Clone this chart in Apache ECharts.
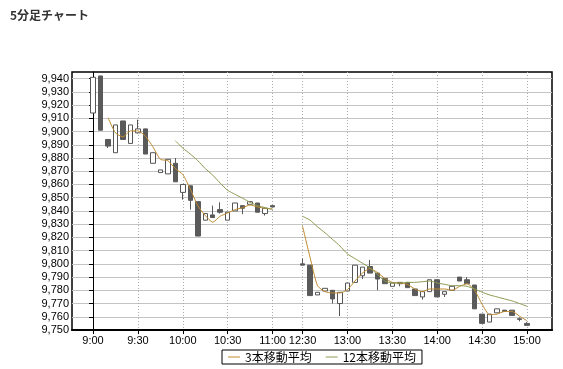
<!DOCTYPE html>
<html>
<head>
<meta charset="utf-8">
<script src="https://cdn.jsdelivr.net/npm/echarts@6/dist/echarts.min.js"></script>
<style>
html,body{margin:0;padding:0;background:#fff;}
#c{width:563px;height:369px;}
</style>
</head>
<body>
<div id="c"></div>
<script>
// Bar slots (index = position on time axis); '' = lunch-gap slots
var times = ['9:00','9:05','9:10','9:15','9:20','9:25','9:30','9:35','9:40','9:45','9:50','9:55',
  '10:00','10:05','10:10','10:15','10:20','10:25','10:30','10:35','10:40','10:45','10:50','10:55','11:00',
  '','','',
  '12:30','12:35','12:40','12:45','12:50','12:55','13:00','13:05','13:10','13:15','13:20','13:25',
  '13:30','13:35','13:40','13:45','13:50','13:55','14:00','14:05','14:10','14:15','14:20','14:25',
  '14:30','14:35','14:40','14:45','14:50','14:55','15:00'];

var openV = [9914,9942,9894,9884,9908,9891,9899,9902,9876,9869,9868,9876,9854,9859,9847,9833,9837,9841,9833,9840,9844,9845,9846,9838,9844,
  null,null,null,
  9800,9799,9776.5,9779.5,9780,9770,9779.5,9786,9791,9798,9793,9789,9783,9786,9786,9781,9775,9779,9788,9777,9780,9790,9788,9784,9762,9756,9763,9765,9765,9758.5,9755];
var closeV = [9941,9901,9889,9905,9894,9905,9902,9883,9884,9871,9879,9862,9860,9848,9821,9838,9835,9839,9839,9846,9842,9847,9839,9842,9843,
  null,null,null,
  9799,9776,9778.5,9781.5,9773.5,9778.5,9785.5,9799,9797.5,9793,9788.5,9785,9785.5,9785,9782,9776,9779,9788,9775,9779,9783,9787,9785,9766,9755,9762,9766,9764,9761,9758,9753.5];
var lowV = [9914,9901,9887.5,9884,9894,9891,9898.5,9883,9876,9869,9868,9862,9848.5,9841,9821,9833,9835,9838,9833,9840,9837.5,9845,9839,9836.5,9843,
  null,null,null,
  9799,9776,9776.5,9779.5,9770,9760.5,9779.5,9786,9788.5,9793,9780,9785,9783,9783,9782,9776,9773,9779,9775,9775,9780,9787,9785,9766,9755,9756,9763,9764,9761,9756.5,9753.5];
var highV = [9941,9942,9894,9905,9908,9905,9909,9902,9884,9871,9879,9880,9860,9859,9847,9838,9844,9846.5,9839,9846,9844,9847,9846,9842,9844,
  null,null,null,
  9804,9799,9778.5,9781.5,9780,9778.5,9785.5,9799,9797.5,9803,9793,9789,9785.5,9786,9786,9781,9779,9788,9788,9779,9783,9790,9790,9784,9762,9762,9766,9765,9765,9759.5,9756];

var ma3 = [null,null,9910.5,9899,9896,9900.5,9900.5,9896.5,9888.5,9879,9878,9872,9867.5,9856.5,9844,9836.5,9831.5,9836,9838.5,9841,9842.5,9844.5,9843,9842,9841.5,
  null,null,null,
  9828.5,9805,9783.5,9779,9778,9778,9780.5,9787,9793,9796.5,9793.5,9789,9786,9785.5,9784.5,9781,9779,9781,9781,9781,9780,9783,9785,9780,9769.5,9761.5,9762,9764,9764,9760.5,9757];
var ma12 = [null,null,null,null,null,null,null,null,null,null,null,9893,9887.5,9883,9878,9872,9867,9861,9855.5,9852.5,9849.5,9846.5,9844,9842.5,9841,
  null,null,null,
  9836,9833,9828,9823.5,9818.5,9813.5,9807.5,9804,9800.5,9797,9792,9787,9785.5,9785.5,9786,9786,9786.5,9787,9785.5,9784.5,9783.5,9783.5,9783,9781,9778.5,9776.5,9775,9773.5,9772,9770,9768];

var tickSlots = [0,6,12,18,24,28,34,40,46,52,58];
var yTicks = [9750,9760,9770,9780,9790,9800,9810,9820,9830,9840,9850,9860,9870,9880,9890,9900,9910,9920,9930,9940];
var legendNames = ['3本移動平均','12本移動平均'];
var titleText = '5分足チャート';

var candles = [];
for (var i = 0; i < times.length; i++) {
  if (openV[i] == null) continue;
  candles.push([i, openV[i], closeV[i], lowV[i], highV[i]]);
}
function lineData(arr){
  return arr.map(function(v,i){ return [i, v == null ? '-' : v]; });
}

var chart = echarts.init(document.getElementById('c'), null, {renderer:'canvas'});
chart.setOption({
  animation: false,
  backgroundColor: '#fff',
  title: {
    text: titleText, left: 10, top: 9, padding: 0,
    textStyle: {fontSize: 12, fontWeight: 'bold', color: '#333', fontFamily: '"Noto Sans CJK JP", sans-serif'}
  },
  legend: {
    data: legendNames, left: 222, top: 350, padding: [1,6,1,6], itemGap: 14,
    icon: 'rect', itemWidth: 12, itemHeight: 1,
    borderColor: '#000', borderWidth: 1,
    textStyle: {fontSize: 12, color: '#000', fontFamily: '"Noto Sans CJK JP", sans-serif'}
  },
  grid: {left: 72, top: 72, right: 11, bottom: 39, show: true, borderColor: '#000', borderWidth: 1.5, backgroundColor: '#fff'},
  xAxis: {
    type: 'value', min: -2.81, max: 61.34,
    axisLine: {show: true, onZero: false, lineStyle: {color: '#000', width: 2}},
    axisTick: {show: true, customValues: tickSlots, length: 4, lineStyle: {color: '#000'}},
    axisLabel: {customValues: tickSlots, formatter: function(v){ return times[Math.round(v)]; },
      color: '#000', fontSize: 11, fontFamily: '"Liberation Sans", Arial, sans-serif', margin: 5},
    splitLine: {show: true, lineStyle: {color: '#aaa', type: [1,2], width: 1}}
  },
  yAxis: {
    type: 'value', min: 9750, max: 9945, interval: 10,
    axisLine: {show: true, lineStyle: {color: '#000', width: 1}},
    axisTick: {show: true, customValues: yTicks, length: 4, lineStyle: {color: '#000'}},
    axisLabel: {customValues: yTicks, formatter: function(v){ return echarts.format.addCommas(v); },
      color: '#000', fontSize: 11, fontFamily: '"Liberation Sans", Arial, sans-serif', margin: 3},
    splitLine: {show: true, lineStyle: {color: '#c4c4c4', width: 1}}
  },
  series: [
    {
      type: 'candlestick', data: candles, encode: {x: 0, y: [1,2,3,4]}, barWidth: 5,
      itemStyle: {color: '#fff', color0: '#5a5a5a', borderColor: '#555', borderColor0: '#5a5a5a', borderWidth: 1}
    },
    {
      name: legendNames[0], type: 'line', data: lineData(ma3), symbol: 'none', smooth: 0.2,
      lineStyle: {color: '#c08a2e', width: 1}, itemStyle: {color: '#c08a2e'}
    },
    {
      name: legendNames[1], type: 'line', data: lineData(ma12), symbol: 'none', smooth: 0.2,
      lineStyle: {color: '#8c9a50', width: 1}, itemStyle: {color: '#8c9a50'}
    }
  ]
});
</script>
</body>
</html>
